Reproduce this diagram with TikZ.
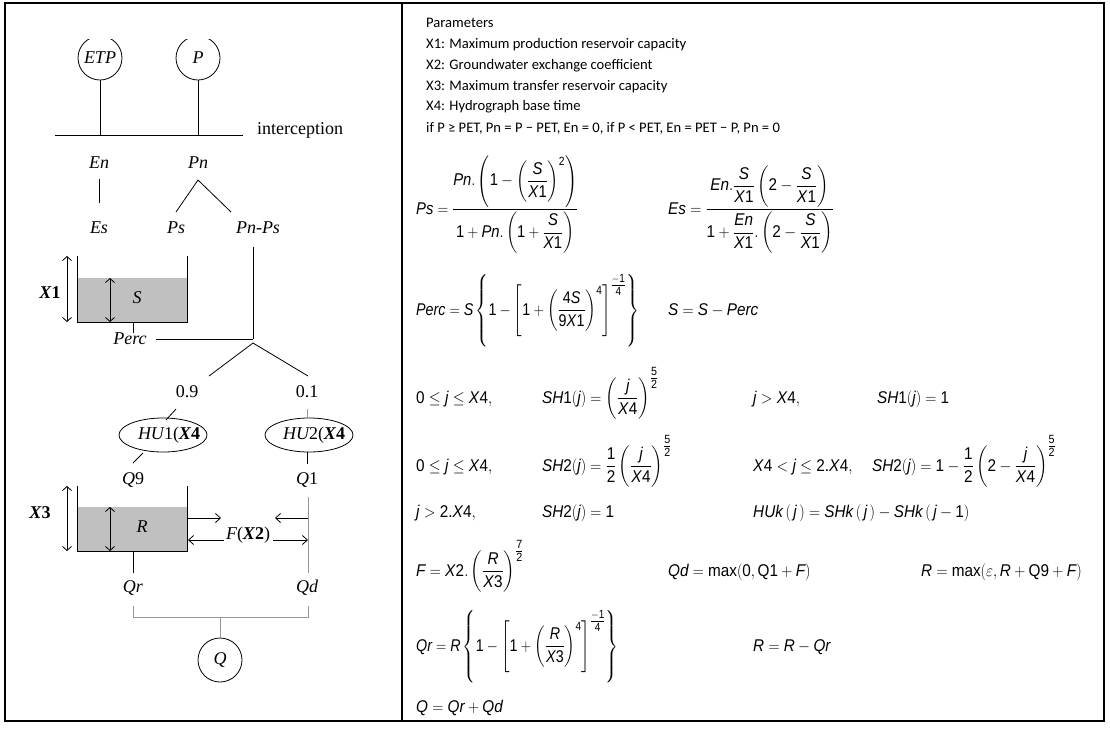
\RequirePackage{fix-cm}
\documentclass[tikz,border=0pt]{standalone}
\usepackage{fontspec}
\usepackage{amsmath}
\usepackage{graphicx}
\setmainfont{Liberation Sans}
\newfontfamily\serifdia{Liberation Serif}
\newfontfamily\calib{Carlito}
\usetikzlibrary{arrows.meta,calc,shapes.geometric}
\definecolor{lgray}{RGB}{150,150,150}
\definecolor{store}{RGB}{192,192,192}
\newcommand\mi[1]{\text{\itshape #1}}
\newcommand\nm[1]{\text{\upshape #1}}
\newcommand\Xn[1]{\text{\itshape X\/\upshape #1}}
\newcommand\eqn[2][0.9]{\scalebox{#1}[1]{$\displaystyle #2$}}
\newcommand\bX[1]{{\bfseries\itshape X}{\bfseries\upshape #1}}
\begin{document}
\begin{tikzpicture}[x=1pt,y=-1pt,
  lab/.style={font=\serifdia\itshape\fontsize{18}{21}\selectfont, inner sep=0},
  upl/.style={font=\serifdia\fontsize{18}{21}\selectfont, inner sep=0},
  circ/.style={circle, draw, minimum size=44pt, inner sep=0, line width=0.8pt},
  hu/.style={ellipse, draw, minimum width=88pt, minimum height=34pt, inner sep=0, line width=0.8pt},
  ln/.style={line width=0.8pt},
  gln/.style={line width=0.8pt, draw=lgray},
  dbl/.style={line width=0.8pt, {Straight Barb[length=4pt,width=9pt]}-{Straight Barb[length=4pt,width=9pt]}},
  arr/.style={line width=0.8pt, -{Straight Barb[length=5pt,width=9pt]}},
  ptxt/.style={font=\calib\fontsize{14.6}{17}\selectfont, inner sep=0, anchor=base west},
  eqs/.style={font=\fontsize{17}{20}\selectfont, inner sep=0, anchor=base west}
]
\useasboundingbox (0,0) rectangle (1110,729);
% frame
\draw[line width=1.2pt] (5,3) rectangle (1104,721);
\draw[line width=1.2pt] (402,3) -- (402,721);

% ---------- left diagram ----------
\begin{scope}
\clip (40,39) rectangle (260,100);
\node[circ, lab] (etp) at (100,58) {ETP};
\node[circ, lab] (p) at (198,58) {P};
\end{scope}
\coordinate (il) at (55,135);
\coordinate (ir) at (243,135);
\draw[ln] (il) -- (ir);
\draw[ln] (etp.south) -- (etp.south |- il);
\draw[ln] (p.south) -- (p.south |- il);
\node[upl, anchor=base west] (icp) at (257,134) {interception};

\node[lab] (en) at (99,163) {En};
\node[lab] (pn) at (198,163) {Pn};
\node[lab] (es) at (99,228) {Es};
\node[lab] (ps) at (176,228) {Ps};
\node[lab] (pnps) at (258,228) {Pn-Ps};
\draw[ln] ($(en)+(0,16)$) -- ($(es)+(0,-25)$);
\draw[ln] ($(pn)+(0,17)$) -- ($(ps)+(0,-16)$);
\draw[ln] ($(pn)+(0,17)$) -- ($(pnps)+(-27,-16)$);

% production store
\fill[store] (77,278) rectangle (187,322);
\draw[ln] (77,256) -- (77,322) -- (187,322) -- (187,256);
\draw[dbl] (67,256) -- (67,322);
\draw[dbl] (110,278) -- (110,322);
\node[upl, font=\serifdia\bfseries\fontsize{18}{21}\selectfont] (x1) at (50,293) {\bX{1}};
\node[lab] (s) at (137,298) {S};
\node[lab] (perc) at (130,339) {Perc};
\draw[ln] (133,322) -- ($(perc)+(3,-6)$);

\coordinate (junc) at (253,339);
\coordinate (apex) at (253,343);
\draw[ln] ($(pnps)+(-5,19)$) -- (junc);
\draw[ln] ($(perc)+(26,0)$) -- (junc);
\node[upl] (n09) at (187,392) {0.9};
\node[upl] (n01) at (307,392) {0.1};
\draw[ln] (apex) -- ($(n09)+(22,-16)$);
\draw[ln] (apex) -- ($(n01)+(1,-16)$);

\node[hu] (hu1) at (163,435) {};
\node[hu] (hu2) at (309,435) {};
\node[lab] (hu1t) at (169,435) {HU{\upshape 1(}\bX{4}};
\node[lab] (hu2t) at (314,435) {HU{\upshape 2(}\bX{4}};
\draw[ln] ($(n09)+(-11,17)$) -- ($(hu1)+(3,-15)$);
\draw[gln] ($(n01)+(0,17)$) -- (hu2.north -| n01);
\node[lab] (q9) at (133,480) {Q{\upshape 9}};
\node[lab] (q1) at (307,480) {Q{\upshape 1}};
\draw[ln] ($(hu1)+(-20,18)$) -- ($(q9)+(0,-17)$);
\draw[ln] (hu2.south -| q1) -- ($(q1)+(0,-16)$);

% routing store
\fill[store] (77,507) rectangle (187,551);
\draw[ln] (77,486) -- (77,551) -- (187,551) -- (187,486);
\draw[dbl] (67,486) -- (67,551);
\draw[dbl] (110,507) -- (110,551);
\node[upl, font=\serifdia\bfseries\fontsize{18}{21}\selectfont] (x3) at (40,513) {\bX{3}};
\node[lab] (r) at (142,527) {R};
\node[lab] (fx2) at (248,535) {F{\upshape (}\bX{2}{\upshape )}};
\coordinate (qdl) at (308,497);
\coordinate (qdb) at (308,573);
\draw[gln] (qdl) -- (qdb);
\draw[arr] (187,518) -- (221,518);
\draw[arr] (308,518) -- (275,518);
\draw[arr] ($(fx2.west)+(-2,5)$) -- (188,540);
\draw[arr] ($(fx2.east)+(3,5)$) -- (308,540);
\draw[ln] (133,551) -- (133,573);
\node[lab] (qr) at (133,588) {Qr};
\node[lab] (qd) at (307,588) {Qd};
\node[circ, lab] (q) at (220,660) {Q};
\coordinate (bl) at (133,617);
\coordinate (br) at (308,617);
\draw[gln] ($(qr)+(0,18)$) -- (bl) -- (br) -- ($(qd)+(1,18)$);
\draw[gln] (q.north |- bl) -- (q.north);

% ---------- right panel ----------
\node[ptxt] (par) at (426,27) {Parameters};
\node[ptxt] (p1) at (426,48) {X1: Maximum production reservoir capacity};
\node[ptxt] (p2) at (426,69) {X2: Groundwater exchange coefficient};
\node[ptxt] (p3) at (426,90) {X3: Maximum transfer reservoir capacity};
\node[ptxt] (p4) at (426,110) {X4: Hydrograph base time};
\node[ptxt] (p5) at (426,132) {if P ≥ PET, Pn = P − PET, En = 0, if P < PET, En = PET − P, Pn = 0};

\node[eqs] (eps) at (416,214) {\eqn[0.87]{\mi{Ps}=\frac{\mi{Pn}.\left(\nm1-\left(\dfrac{\mi{S}}{\Xn1}\right)^{\nm2}\right)}{\nm1+\mi{Pn}.\left(\nm1+\dfrac{\mi{S}}{\Xn1}\right)}}};
\node[eqs] (ees) at (668,214) {\eqn{\mi{Es}=\frac{\mi{En}.\dfrac{\mi{S}}{\Xn1}\left(\nm2-\dfrac{\mi{S}}{\Xn1}\right)}{\nm1+\dfrac{\mi{En}}{\Xn1}.\left(\nm2-\dfrac{\mi{S}}{\Xn1}\right)}}};
\node[eqs] (eperc) at (416,315) {\eqn[0.84]{\mi{Perc}=\mi{S}\left\{\nm1-\left[\nm1+\left(\dfrac{\nm4\mi{S}}{\nm9\Xn1}\right)^{\nm4}\right]^{\tfrac{-\nm1}{\nm4}}\right\}}};
\node[eqs] (es2) at (668,315) {\eqn{\mi{S}=\mi{S}-\mi{Perc}}};

\node[eqs] (r4a) at (416,403) {\eqn{\nm0\le \mi{j}\le \Xn4,}};
\node[eqs] (r4b) at (542,403) {\eqn{\mi{SH}\nm1(\mi{j})=\left(\dfrac{\mi{j}}{\Xn4}\right)^{\tfrac{\nm5}{\nm2}}}};
\node[eqs] (r4c) at (753,403) {\eqn{\mi{j}>\Xn4,}};
\node[eqs] (r4d) at (877,403) {\eqn{\mi{SH}\nm1(\mi{j})=\nm1}};

\node[eqs] (r5a) at (416,471) {\eqn{\nm0\le \mi{j}\le \Xn4,}};
\node[eqs] (r5b) at (542,471) {\eqn{\mi{SH}\nm2(\mi{j})=\frac{\nm1}{\nm2}\left(\dfrac{\mi{j}}{\Xn4}\right)^{\tfrac{\nm5}{\nm2}}}};
\node[eqs] (r5c) at (753,471) {\eqn{\Xn4<\mi{j}\le \nm{2.}\Xn4,}};
\node[eqs] (r5d) at (872,471) {\eqn{\mi{SH}\nm2(\mi{j})=\nm1-\frac{\nm1}{\nm2}\left(\nm2-\dfrac{\mi{j}}{\Xn4}\right)^{\tfrac{\nm5}{\nm2}}}};

\node[eqs] (r6a) at (416,517) {\eqn{\mi{j}>\nm{2.}\Xn4,}};
\node[eqs] (r6b) at (542,517) {\eqn{\mi{SH}\nm2(\mi{j})=\nm1}};
\node[eqs] (r6c) at (753,517) {\eqn{\mi{HUk}\,(\,\mi{j}\,)=\mi{SHk}\,(\,\mi{j}\,)-\mi{SHk}\,(\,\mi{j}-\nm1)}};

\node[eqs] (r7a) at (416,576) {\eqn{\mi{F}=\Xn2.\left(\dfrac{\mi{R}}{\Xn3}\right)^{\tfrac{\nm7}{\nm2}}}};
\node[eqs] (r7b) at (668,576) {\eqn{\mi{Qd}=\nm{max}(\nm0,\nm{Q1}+\mi{F})}};
\node[eqs] (r7c) at (921,576) {\eqn{\mi{R}=\nm{max}(\varepsilon,\mi{R}+\nm{Q9}+\mi{F})}};

\node[eqs] (r8a) at (416,651) {\eqn[0.84]{\mi{Qr}=\mi{R}\left\{\nm1-\left[\nm1+\left(\dfrac{\mi{R}}{\Xn3}\right)^{\nm4}\right]^{\tfrac{-\nm1}{\nm4}}\right\}}};
\node[eqs] (r8b) at (753,651) {\eqn{\mi{R}=\mi{R}-\mi{Qr}}};

\node[eqs] (r9) at (416,712) {\eqn{\mi{Q}=\mi{Qr}+\mi{Qd}}};
\end{tikzpicture}
\end{document}
